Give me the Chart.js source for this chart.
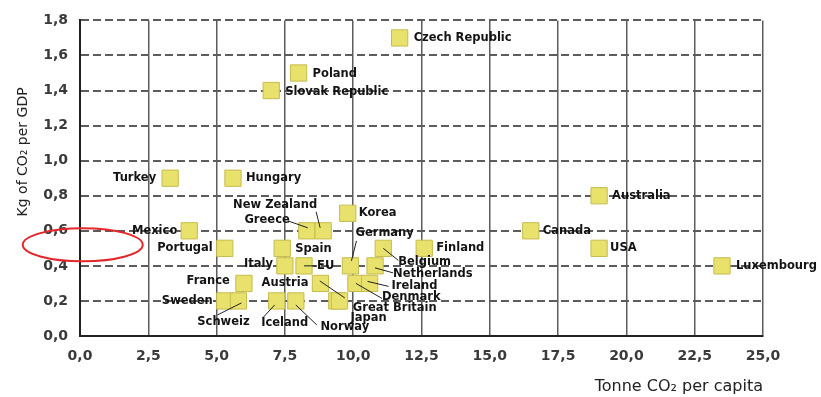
<!DOCTYPE html>
<html>
<head>
<meta charset="utf-8">
<script src="https://cdn.jsdelivr.net/npm/chart.js@4.4.0/dist/chart.umd.min.js"></script>
<style>
  html, body { margin: 0; padding: 0; background: #fff; }
  #wrap { width: 821px; height: 397px; }
</style>
</head>
<body>
<div id="wrap"><canvas id="co2chart"></canvas></div>
<script>
// Data
const countries = [
  'Czech Republic', 'Poland', 'Slovak Republic', 'Turkey', 'Hungary',
  'Mexico', 'Portugal', 'France', 'Sweden', 'Schweiz', 'Iceland', 'Norway',
  'Austria', 'Great Britain', 'Japan', 'Denmark', 'Ireland', 'Netherlands',
  'Belgium', 'Finland', 'Germany', 'Korea', 'EU', 'Italy', 'Spain',
  'Greece', 'New Zealand', 'Canada', 'Australia', 'USA', 'Luxembourg'
];
const co2PerCapita = [
  11.7, 8.0, 7.0, 3.3, 5.6,
  4.0, 5.3, 6.0, 5.3, 5.8, 7.2, 7.9,
  8.8, 9.4, 9.5, 10.1, 10.6, 10.8,
  11.1, 12.6, 9.9, 9.8, 8.2, 7.5, 7.4,
  8.3, 8.9, 16.5, 19.0, 19.0, 23.5
];
const kgPerGdp = [
  1.7, 1.5, 1.4, 0.9, 0.9,
  0.6, 0.5, 0.3, 0.2, 0.2, 0.2, 0.2,
  0.3, 0.2, 0.2, 0.3, 0.3, 0.4,
  0.5, 0.5, 0.4, 0.7, 0.4, 0.4, 0.5,
  0.6, 0.6, 0.6, 0.8, 0.5, 0.4
];
const xTicks = [0, 2.5, 5, 7.5, 10, 12.5, 15, 17.5, 20, 22.5, 25];
const yTicks = [0, 0.2, 0.4, 0.6, 0.8, 1.0, 1.2, 1.4, 1.6, 1.8];
const xTitle = 'Tonne CO\u2082 per capita';
const yTitle = 'Kg of CO\u2082 per GDP';

// where each name sits relative to its marker (px), plus optional leader line
const labelLayout = {
  'Czech Republic': { dx: 14, dy: 0 },
  'Poland': { dx: 14, dy: 1 },
  'Slovak Republic': { dx: 14, dy: 1 },
  'Turkey': { dx: -14, dy: 0, align: 'right' },
  'Hungary': { dx: 13, dy: 0 },
  'Mexico': { dx: -12, dy: 0, align: 'right' },
  'Portugal': { dx: -12, dy: 0, align: 'right' },
  'France': { dx: -14, dy: -2, align: 'right' },
  'Sweden': { dx: -12, dy: 0, align: 'right' },
  'Schweiz': { dx: -15, dy: 21, align: 'center', line: [-21, 14, 3, 2] },
  'Iceland': { dx: 8, dy: 22, align: 'center', line: [-14, 17, -2, 4] },
  'Norway': { dx: 49, dy: 26, align: 'center', line: [0, 4, 21, 24] },
  'Austria': { dx: -12, dy: 0, align: 'right' },
  'Great Britain': { dx: 16, dy: 7, line: [-17, -20, 8, -3] },
  'Japan': { dx: 11, dy: 17 },
  'Denmark': { dx: 26, dy: 14, line: [0, 0, 26, 15] },
  'Ireland': { dx: 22, dy: 3, line: [-2, -2, 19, 3] },
  'Netherlands': { dx: 18, dy: 8, line: [0, 2, 18, 7] },
  'Belgium': { dx: 15, dy: 14, line: [0, 0, 15, 12] },
  'Finland': { dx: 12, dy: 0 },
  'Germany': { dx: 5, dy: -33, line: [1, -5, 6, -25] },
  'Korea': { dx: 11, dy: 0 },
  'EU': { dx: 13, dy: 0, line: [0, 0, 12, 0] },
  'Italy': { dx: -12, dy: -2, align: 'right' },
  'Spain': { dx: 13, dy: 1 },
  'Greece': { dx: -17, dy: -11, align: 'right', line: [-19, -10, 1, -3] },
  'New Zealand': { dx: -48, dy: -26, align: 'center', line: [-7, -19, -3, -3] },
  'Canada': { dx: 12, dy: 0 },
  'Australia': { dx: 13, dy: 0 },
  'USA': { dx: 11, dy: 0 },
  'Luxembourg': { dx: 14, dy: 0 }
};

// red ring drawn on the scan, in data units
const highlight = { x: 0.1, y: 0.52, rx: 60, ry: 16.5 };

const fmt = v => v.toFixed(1).replace('.', ',');

const countryLabels = {
  id: 'countryLabels',
  afterDatasetsDraw(chart) {
    const ctx = chart.ctx;
    const meta = chart.getDatasetMeta(0);
    ctx.save();
    ctx.font = 'bold 11.5px "DejaVu Sans"';
    ctx.textBaseline = 'middle';
    ctx.fillStyle = '#141414';
    ctx.strokeStyle = '#222';
    ctx.lineWidth = 1;
    meta.data.forEach((pt, i) => {
      const name = countries[i];
      const l = labelLayout[name] || { dx: 12, dy: 0 };
      if (l.line) {
        ctx.beginPath();
        ctx.moveTo(pt.x + l.line[0], pt.y + l.line[1]);
        ctx.lineTo(pt.x + l.line[2], pt.y + l.line[3]);
        ctx.stroke();
      }
      ctx.textAlign = l.align || 'left';
      ctx.fillText(name, pt.x + l.dx, pt.y + l.dy);
    });
    ctx.restore();
  },
  afterDraw(chart) {
    const ctx = chart.ctx;
    const xs = chart.scales.x, ys = chart.scales.y;
    ctx.save();
    // y axis title
    ctx.font = '14px "DejaVu Sans"';
    ctx.fillStyle = '#222';
    ctx.textAlign = 'center';
    ctx.textBaseline = 'middle';
    ctx.translate(23, ys.getPixelForValue(1.05));
    ctx.rotate(-Math.PI / 2);
    ctx.fillText(yTitle, 0, 0);
    ctx.restore();

    ctx.save();
    ctx.strokeStyle = '#e3262a';
    ctx.lineWidth = 2;
    ctx.beginPath();
    ctx.ellipse(xs.getPixelForValue(highlight.x), ys.getPixelForValue(highlight.y),
      highlight.rx, highlight.ry, 0, 0, Math.PI * 2);
    ctx.stroke();
    ctx.restore();
  }
};

new Chart(document.getElementById('co2chart'), {
  type: 'scatter',
  data: {
    datasets: [{
      label: 'Countries',
      data: countries.map((c, i) => ({ x: co2PerCapita[i], y: kgPerGdp[i] })),
      pointStyle: 'rect',
      pointRadius: 11.5,
      backgroundColor: 'rgb(232,225,108)',
      borderColor: 'rgb(198,188,78)',
      borderWidth: 1
    }]
  },
  options: {
    responsive: true,
    maintainAspectRatio: false,
    animation: false,
    layout: { padding: { left: 0, right: 58, top: 18, bottom: 0 } },
    plugins: { legend: { display: false }, tooltip: { enabled: false } },
    scales: {
      x: {
        type: 'linear',
        min: 0, max: 25,
        afterBuildTicks: s => { s.ticks = xTicks.map(v => ({ value: v })); },
        afterFit: s => { s.height = 61; },
        grid: { color: '#5c5c5c', lineWidth: 1.5, drawTicks: false },
        border: { display: true, color: '#222', width: 2 },
        ticks: {
          padding: 12,
          color: '#3a3a3a',
          font: { family: 'DejaVu Sans', size: 14, weight: 'bold' },
          callback: v => fmt(v)
        },
        title: {
          display: true,
          text: xTitle,
          align: 'end',
          color: '#222',
          padding: { top: 0, bottom: 1 },
          font: { family: 'DejaVu Sans', size: 16 }
        }
      },
      y: {
        type: 'linear',
        min: 0, max: 1.8,
        afterBuildTicks: s => { s.ticks = yTicks.map(v => ({ value: v })); },
        afterFit: s => { s.width = 80; },
        grid: { color: '#5c5c5c', lineWidth: 2, drawTicks: false },
        border: { display: true, color: '#222', width: 2, dash: [8, 4] },
        ticks: {
          padding: 12,
          color: '#3a3a3a',
          font: { family: 'DejaVu Sans', size: 14, weight: 'bold' },
          callback: v => fmt(v)
        }
      }
    }
  },
  plugins: [countryLabels]
});
</script>
</body>
</html>
